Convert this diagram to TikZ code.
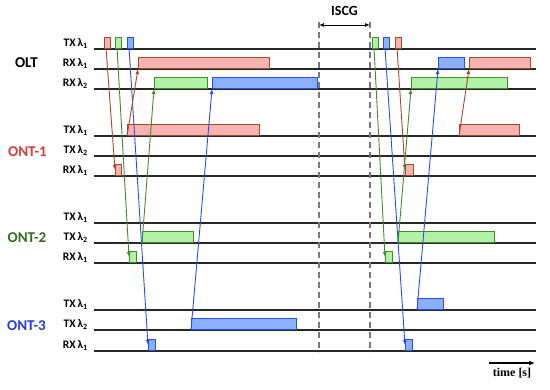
\documentclass[tikz,border=0pt]{standalone}
\usepackage{fontspec}
\setmainfont{Carlito}
\newfontfamily\timefont{Liberation Serif}
\usetikzlibrary{positioning,arrows.meta,calc}
\definecolor{pulsered}{RGB}{247,178,178}
\definecolor{edgered}{RGB}{165,75,45}
\definecolor{pulsegreen}{RGB}{176,242,166}
\definecolor{edgegreen}{RGB}{75,135,45}
\definecolor{pulseblue}{RGB}{138,176,250}
\definecolor{edgeblue}{RGB}{40,80,232}
\definecolor{ontred}{RGB}{215,60,55}
\definecolor{ontgreen}{RGB}{50,110,30}
\definecolor{ontblue}{RGB}{35,60,225}
\definecolor{trackgray}{RGB}{40,40,40}
\definecolor{gapgray}{RGB}{120,120,120}
\newcommand{\wl}[1]{λ\textsubscript{#1}}

\begin{document}
\begin{tikzpicture}[x=1pt,y=-1pt,
  track/.style={trackgray,line width=1.1pt},
  pulse/.style={rectangle,draw=edge#1,fill=pulse#1,line width=1pt,minimum height=11pt,inner sep=0pt,anchor=south west},
  signal/.style={line width=0.9pt,-{Latex[length=5pt,width=4pt]}},
  chanlabel/.style={font=\bfseries\fontsize{11.5}{11.5}\selectfont,anchor=base east,inner sep=0pt},
  grouplabel/.style={font=\bfseries\fontsize{15}{15}\selectfont},
  gapline/.style={gapgray,line width=1.1pt,dash pattern=on 6pt off 4pt}]
\useasboundingbox (0,0) rectangle (550,390);

% channel tracks with their labels
\foreach \n/\y/\k/\w in {olttx/49/TX/1, oltrxa/69/RX/1, oltrxb/89/RX/2,
    onea/136/TX/1, oneb/156/TX/2, onec/176/RX/1,
    twoa/223/TX/1, twob/243/TX/2, twoc/263/RX/1,
    threea/310/TX/1, threeb/330/TX/2, threec/351/RX/1} {
  \draw[track] (94,\y) coordinate (\n-s) -- (536,\y) coordinate (\n-e);
  \node[chanlabel] (\n-lab) at (88,\y-2.5) {\k\,\wl{\w}};
}

% group names
\node[grouplabel] (olt) at (26.5,63) {OLT};
\node[grouplabel,ontred] (ont1) at (27.5,152) {ONT-1};
\node[grouplabel,ontgreen] (ont2) at (27,238) {ONT-2};
\node[grouplabel,ontblue] (ont3) at (26.5,326) {ONT-3};

% pulses: name / colour / start / end / track
\foreach \n/\c/\a/\b/\y in {
    dr/red/104/110/49, dg/green/115/121/49, db/blue/127/133/49,
    ur/red/138/269/69, ug/green/154/207/89, ub/blue/212/317/89,
    txr/red/127/259/136, rxr/red/115/121/176,
    txg/green/142/193/243, rxg/green/129/136/263,
    txb/blue/191/296/330, rxb/blue/148/155/351,
    dg2/green/372/378/49, db2/blue/383/389/49, dr2/red/395/401/49,
    ub2/blue/438/464/69, ur2/red/469/530/69, ug2/green/411/507/89,
    txr2/red/459/519/136, rxr2/red/405/413/176,
    txg2/green/398/494/243, rxg2/green/385/392/263,
    txb2/blue/417/443/310, rxb2/blue/405/412/351} {
  \node[pulse=\c,minimum width={\b-\a}] (\n) at (\a,\y) {};
}

% first cycle
\draw[signal,edgered] ($(dr.south west)!0.3!(dr.south east)$) -- (rxr.west);
\draw[signal,edgegreen] ($(dg.south west)!0.3!(dg.south east)$) -- (rxg.west);
\draw[signal,edgeblue] ($(db.south west)!0.3!(db.south east)$) -- (rxb.west);
\draw[signal,edgered] (txr.south west) -- (ur.south west);
\draw[signal,edgegreen] (txg.south west) -- (ug.south west);
\draw[signal,edgeblue] (txb.south west) -- (ub.south west);

% second cycle
\draw[signal,edgegreen] ($(dg2.south west)!0.3!(dg2.south east)$) -- (rxg2.west);
\draw[signal,edgeblue] ($(db2.south west)!0.3!(db2.south east)$) -- (rxb2.west);
\draw[signal,edgered] ($(dr2.south west)!0.3!(dr2.south east)$) -- (rxr2.west);
\draw[signal,edgegreen] (txg2.south west) -- (ug2.south west);
\draw[signal,edgeblue] (txb2.south west) -- (ub2.south west);
\draw[signal,edgered] (txr2.south west) -- (ur2.south west);

% guard interval
\coordinate (g0) at (319,22);
\coordinate (g1) at (370,22);
\draw[gapline] (g0) -- (319,352);
\draw[gapline] (g1) -- (370,352);
\draw[line width=0.9pt,{Latex[length=5pt,width=4pt]}-{Latex[length=5pt,width=4pt]}] ([yshift=-3pt]g0) -- ([yshift=-3pt]g1);
\node[font=\bfseries\fontsize{14}{14}\selectfont,above=3pt] (iscg) at ($(g0)!0.5!(g1)$) {ISCG};

% time axis
\coordinate (t0) at (489,363);
\coordinate (t1) at (535,363);
\draw[line width=1.5pt,-{Latex[length=6pt,width=5pt]}] (t0) -- (t1);
\node[font=\timefont\bfseries\fontsize{12}{12}\selectfont,below=2pt] (time) at ($(t0)!0.5!(t1)$) {time [s]};
\end{tikzpicture}
\end{document}
